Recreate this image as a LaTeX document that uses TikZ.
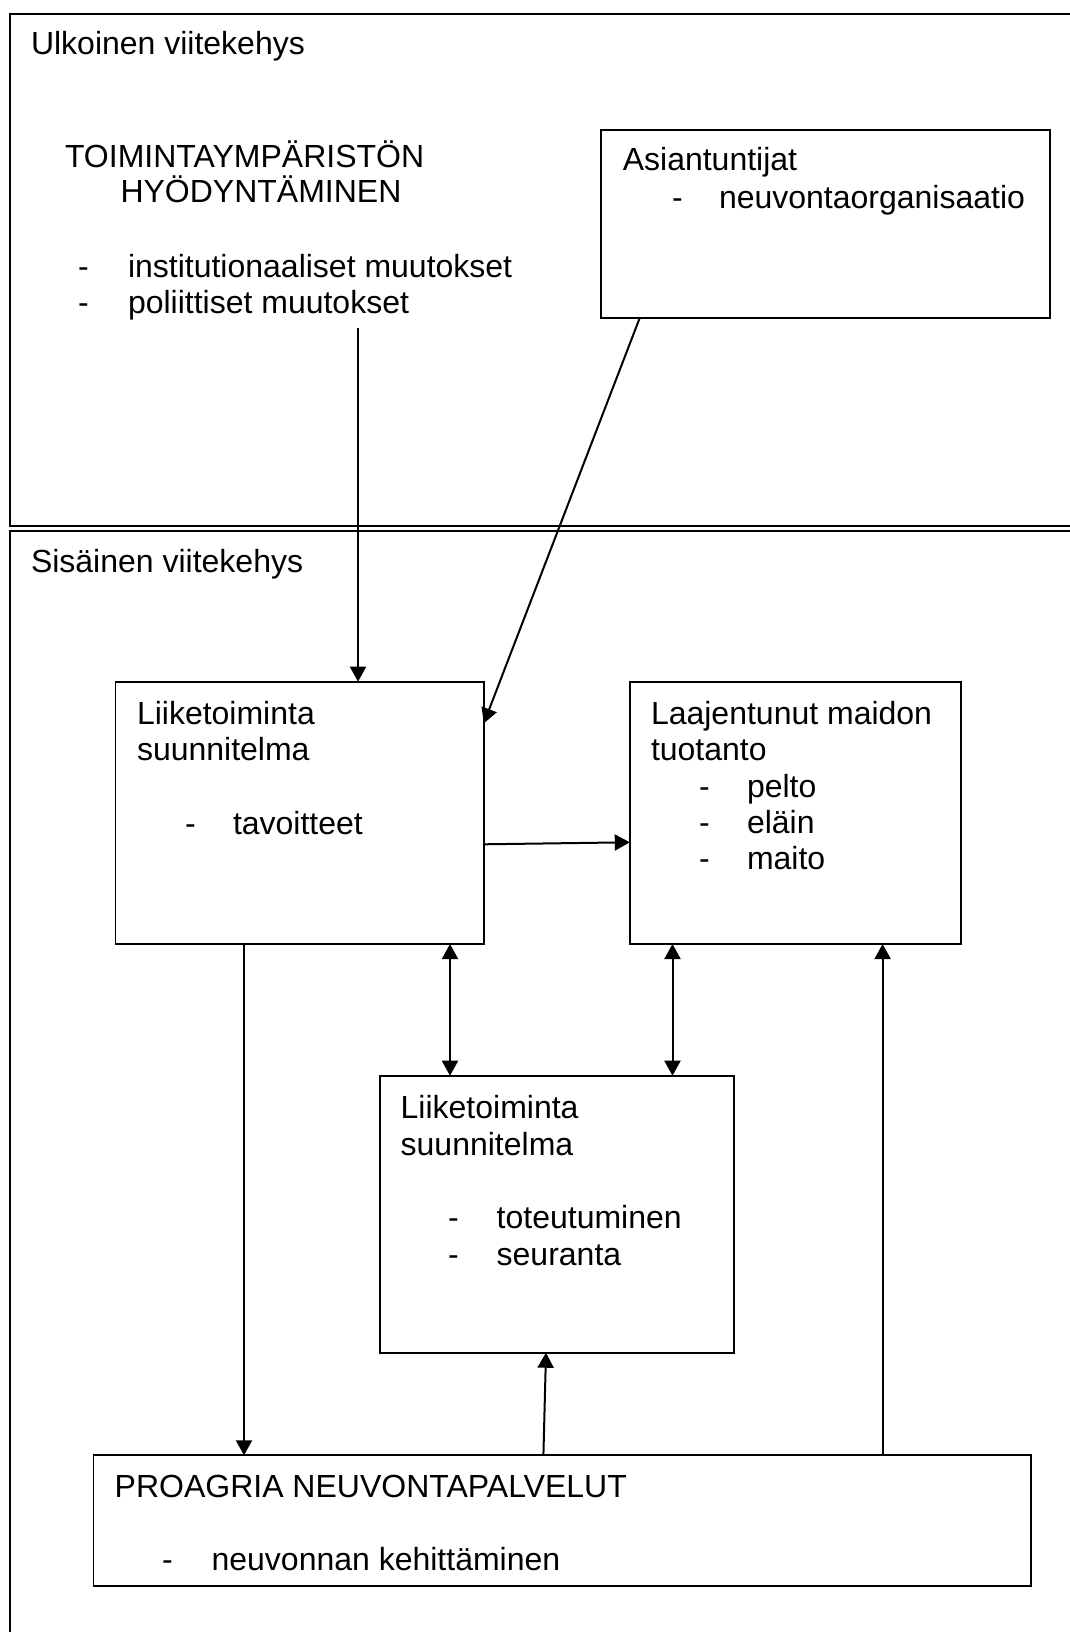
\documentclass[tikz,border=0pt]{standalone}
\usepackage{fontspec}
\setmainfont{Liberation Sans}
\usetikzlibrary{arrows.meta}
\begin{document}
\begin{tikzpicture}[x=1pt,y=-1pt,
  frame/.style={draw=black,line width=2pt},
  box/.style={draw=black,line width=1.8pt,rectangle,anchor=north west,inner sep=0pt,outer sep=0pt},
  txt/.style={anchor=base west,inner sep=0pt,outer sep=0pt,yshift=-2pt,font=\fontsize{32}{36.6}\selectfont},
  arr/.style={line width=2pt,-{Triangle[length=15pt,width=16pt]}},
  darr/.style={line width=2pt,{Triangle[length=15pt,width=16pt]}-{Triangle[length=15pt,width=16pt]}}]
\useasboundingbox (0,0) rectangle (1070,1632);
\fill[white] (0,0) rectangle (1070,1632);
% frames
\draw[frame] (1090,14) -- (10,14) -- (10,525.7) -- (1090,525.7);
\draw[frame] (1090,531) -- (10,531) -- (10,1660);
% outer texts
\node[txt] (ulk) at (31,53) {Ulkoinen viitekehys};
\node[txt] (toim1) at (65,166) {TOIMINTAYMPÄRISTÖN};
\node[txt] (toim2) at (120.5,200.5) {HYÖDYNTÄMINEN};
\node[txt] (d1) at (78,275) {-};
\node[txt] (inst) at (128,275) {institutionaaliset muutokset};
\node[txt] (d2) at (78,311.5) {-};
\node[txt] (pol) at (128,311.5) {poliittiset muutokset};
% Asiantuntijat
\node[box,minimum width=449pt,minimum height=188pt] (asi) at (601,130) {};
\node[txt] (asit) at (622.8,168.3) {Asiantuntijat};
\node[txt] (d3) at (672,206) {-};
\node[txt] (neuv) at (719,206) {neuvontaorganisaatio};
\node[txt] (sis) at (31,570.7) {Sisäinen viitekehys};
% box 1
\node[box,minimum width=368.4pt,minimum height=262.3pt] (b1) at (115.4,681.7) {};
\node[txt] (b1a) at (137,722.3) {Liiketoiminta};
\node[txt] (b1b) at (137,758.7) {suunnitelma};
\node[txt] (d4) at (185,832) {-};
\node[txt] (b1c) at (233,832) {tavoitteet};
% box 2
\node[box,minimum width=330.8pt,minimum height=262pt] (b2) at (629.8,682) {};
\node[txt] (b2a) at (651,722.3) {Laajentunut maidon};
\node[txt] (b2b) at (651,758.7) {tuotanto};
\node[txt] (d5) at (699,795) {-};
\node[txt] (b2c) at (747,795) {pelto};
\node[txt] (d6) at (699,831) {-};
\node[txt] (b2d) at (747,831) {eläin};
\node[txt] (d7) at (699,867) {-};
\node[txt] (b2e) at (747,867) {maito};
% box 3
\node[box,minimum width=354pt,minimum height=277pt] (b3) at (380,1075.7) {};
\node[txt] (b3a) at (400.7,1116.7) {Liiketoiminta};
\node[txt] (b3b) at (400.7,1153.3) {suunnitelma};
\node[txt] (d8) at (448,1226.7) {-};
\node[txt] (b3c) at (496.7,1226.7) {toteutuminen};
\node[txt] (d9) at (448,1263.3) {-};
\node[txt] (b3d) at (496.7,1263.3) {seuranta};
% box 4
\node[box,minimum width=937.2pt,minimum height=130.4pt] (b4) at (93.5,1455.3) {};
\node[txt] (b4a) at (114.7,1495.7) {PROAGRIA NEUVONTAPALVELUT};
\node[txt] (d10) at (162,1568.3) {-};
\node[txt] (b4b) at (211.6,1568.3) {neuvonnan kehittäminen};
% connectors
\coordinate (a1s) at (358,328);
\draw[arr] (a1s) -- (a1s |- b1.north);
\draw[arr] ([xshift=38.7pt]asi.south west) -- ([yshift=-41.6pt]b1.north east);
\draw[arr] ([yshift=-162.6pt]b1.north east) -- ([yshift=-160.3pt]b2.north west);
\draw[darr] ([xshift=334.6pt]b1.south west) -- ([xshift=70pt]b3.north west);
\draw[darr] ([xshift=42.7pt]b2.south west) -- ([xshift=292.5pt]b3.north west);
\draw[arr] ([xshift=128.6pt]b1.south west) -- ([xshift=150.5pt]b4.north west);
\draw[arr] ([xshift=449.9pt]b4.north west) -- ([xshift=166pt]b3.south west);
\draw[arr] ([xshift=789.1pt]b4.north west) -- ([xshift=252.8pt]b2.south west);
\end{tikzpicture}
\end{document}
